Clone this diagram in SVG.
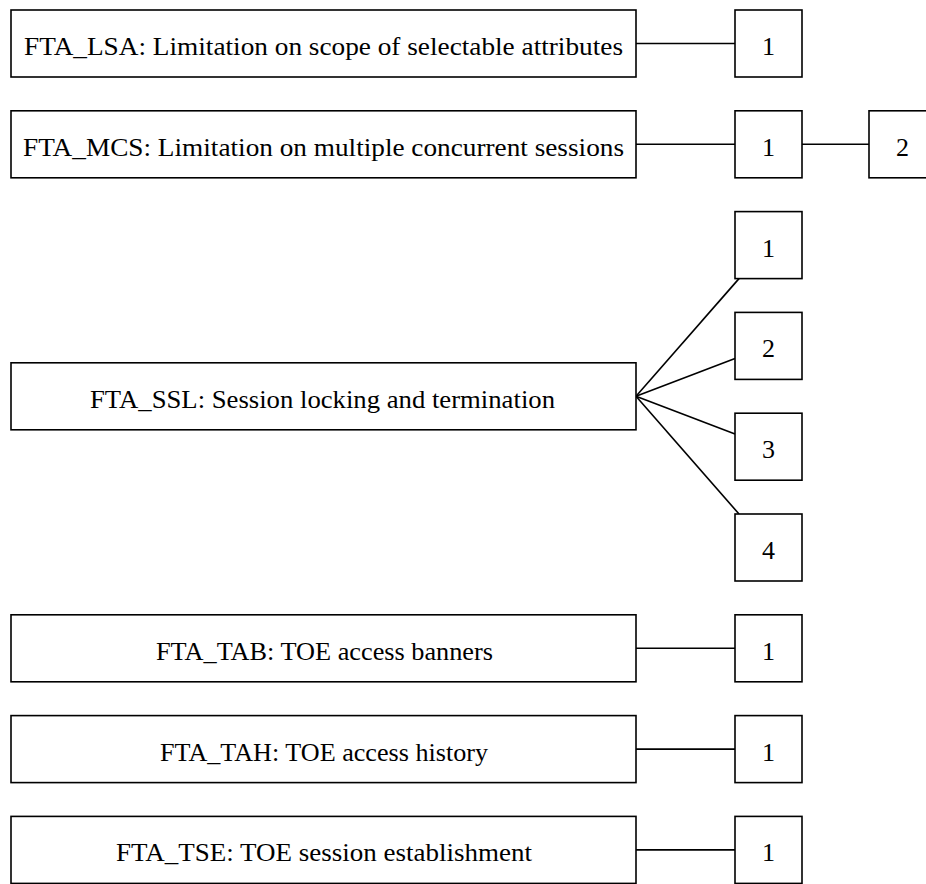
<svg xmlns="http://www.w3.org/2000/svg" width="926" height="884" viewBox="0 0 926 884">
<style>
.box{fill:#fff;stroke:#000;stroke-width:1.6}
.ln{stroke:#000;stroke-width:1.6;fill:none}
.t{font-family:"Liberation Serif","DejaVu Serif",serif;font-size:26px;fill:#000;text-anchor:middle}
</style>
<rect width="926" height="884" fill="#fff"/>
<g id="connectors">
<line class="ln" x1="636" y1="43.5" x2="735" y2="43.5"/>
<line class="ln" x1="636" y1="144.3" x2="735" y2="144.3"/>
<line class="ln" x1="802" y1="144.3" x2="869" y2="144.3"/>
<line class="ln" x1="636" y1="396.3" x2="739" y2="278.6"/>
<line class="ln" x1="636" y1="396.3" x2="735" y2="358.6"/>
<line class="ln" x1="636" y1="396.3" x2="735" y2="434"/>
<line class="ln" x1="636" y1="396.3" x2="739" y2="514"/>
<line class="ln" x1="636" y1="648.3" x2="735" y2="648.3"/>
<line class="ln" x1="636" y1="749.1" x2="735" y2="749.1"/>
<line class="ln" x1="636" y1="849.9" x2="735" y2="849.9"/>
</g>
<g id="FTA_LSA"><rect class="box" x="11" y="10" width="625" height="67"/><text class="t" x="323.5" y="55" textLength="599" lengthAdjust="spacingAndGlyphs">FTA_LSA: Limitation on scope of selectable attributes</text></g>
<g id="FTA_LSA_1"><rect class="box" x="735" y="10" width="67" height="67"/><text class="t" x="768.5" y="55">1</text></g>
<g id="FTA_MCS"><rect class="box" x="11" y="110.8" width="625" height="67"/><text class="t" x="323.5" y="155.8" textLength="601" lengthAdjust="spacingAndGlyphs">FTA_MCS: Limitation on multiple concurrent sessions</text></g>
<g id="FTA_MCS_1"><rect class="box" x="735" y="110.8" width="67" height="67"/><text class="t" x="768.5" y="155.8">1</text></g>
<g id="FTA_MCS_2"><rect class="box" x="869" y="110.8" width="67" height="67"/><text class="t" x="902.5" y="155.8">2</text></g>
<g id="FTA_SSL"><rect class="box" x="11" y="362.8" width="625" height="67"/><text class="t" x="322.5" y="407.8" textLength="465" lengthAdjust="spacingAndGlyphs">FTA_SSL: Session locking and termination</text></g>
<g id="FTA_SSL_1"><rect class="box" x="735" y="211.6" width="67" height="67"/><text class="t" x="768.5" y="256.6">1</text></g>
<g id="FTA_SSL_2"><rect class="box" x="735" y="312.4" width="67" height="67"/><text class="t" x="768.5" y="357.4">2</text></g>
<g id="FTA_SSL_3"><rect class="box" x="735" y="413.2" width="67" height="67"/><text class="t" x="768.5" y="458.2">3</text></g>
<g id="FTA_SSL_4"><rect class="box" x="735" y="514" width="67" height="67"/><text class="t" x="768.5" y="559">4</text></g>
<g id="FTA_TAB"><rect class="box" x="11" y="614.8" width="625" height="67"/><text class="t" x="324.5" y="659.8" textLength="337" lengthAdjust="spacingAndGlyphs">FTA_TAB: TOE access banners</text></g>
<g id="FTA_TAB_1"><rect class="box" x="735" y="614.8" width="67" height="67"/><text class="t" x="768.5" y="659.8">1</text></g>
<g id="FTA_TAH"><rect class="box" x="11" y="715.6" width="625" height="67"/><text class="t" x="324" y="760.6" textLength="328" lengthAdjust="spacingAndGlyphs">FTA_TAH: TOE access history</text></g>
<g id="FTA_TAH_1"><rect class="box" x="735" y="715.6" width="67" height="67"/><text class="t" x="768.5" y="760.6">1</text></g>
<g id="FTA_TSE"><rect class="box" x="11" y="816.4" width="625" height="67"/><text class="t" x="324" y="861.4" textLength="416" lengthAdjust="spacingAndGlyphs">FTA_TSE: TOE session establishment</text></g>
<g id="FTA_TSE_1"><rect class="box" x="735" y="816.4" width="67" height="67"/><text class="t" x="768.5" y="861.4">1</text></g>
</svg>
